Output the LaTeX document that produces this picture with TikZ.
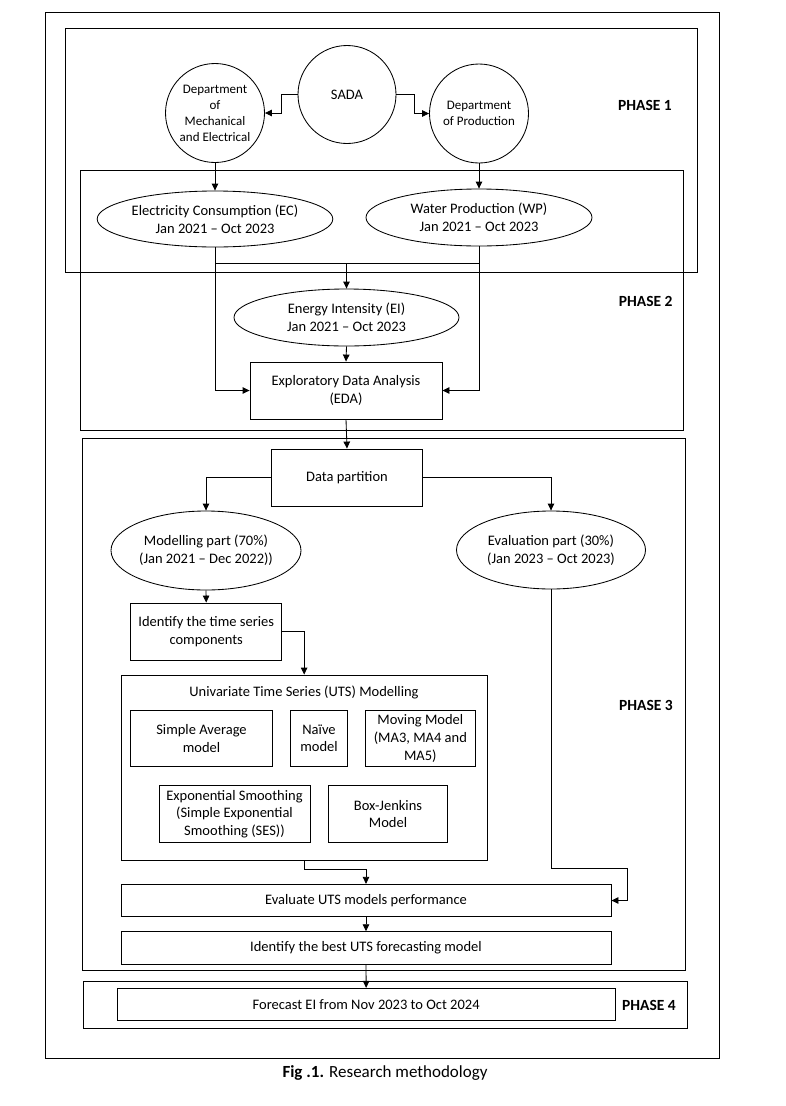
\documentclass[tikz,border=0pt]{standalone}
\usepackage{fontspec}
\setmainfont{Carlito}
\usetikzlibrary{shapes.geometric,arrows.meta,calc}
\begin{document}
\begin{tikzpicture}[x=1pt,y=-1pt,
  every node/.style={font=\fontsize{14.5}{17.7}\selectfont, align=center, inner sep=0pt},
  box/.style={draw, line width=0.85pt, rectangle},
  ell/.style={draw, line width=0.85pt, ellipse},
  circ/.style={draw, line width=0.85pt, circle},
  frame/.style={draw, line width=0.95pt},
  arr/.style={line width=0.85pt, -{Triangle[length=7pt,width=6.5pt]}},
  ln/.style={line width=0.85pt},
  phase/.style={font=\fontsize{15.5}{18}\selectfont\bfseries},
  small/.style={font=\fontsize{13}{16}\selectfont}
]
\useasboundingbox (0,0) rectangle (786,1106);
% frames
\draw[frame] (45,12) rectangle (719.5,1058.3);
\draw[frame] (65,28) rectangle (697,272);
\draw[frame] (80.5,170) rectangle (683,430);
\draw[frame] (82,438) rectangle (685,970);
\draw[frame] (83.5,981) rectangle (687,1028.3);
\node[phase] (p1) at (645,105.7) {PHASE 1};
\node[phase] (p2) at (645.7,301.7) {PHASE 2};
\node[phase] (p3) at (646,705.7) {PHASE 3};
\node[phase] (p4) at (649,1005.7) {PHASE 4};

% phase 1
\node[circ, minimum size=98pt] (sada) at (347,94.5) {SADA};
\node[circ, minimum size=99pt, small] (dme) at (215,113) {Department\\of\\Mechanical\\and Electrical};
\node[circ, minimum size=99pt, small] (dpr) at (479,113.5) {Department\\of Production};
\node[ell, minimum width=226pt, minimum height=56pt] (ec) at (215,219) {Electricity Consumption (EC)\\Jan 2021 – Oct 2023};
\node[ell, minimum width=226pt, minimum height=57pt] (wp) at (479,217.5) {Water Production (WP)\\Jan 2021 – Oct 2023};

\draw[arr] (sada.west) -- (281,94.5) |- (dme.east);
\draw[arr] (sada.east) -- (414,94.5) |- (dpr.west);
\draw[arr] (dme.south) -- (ec.north);
\draw[arr] (dpr.south) -- (wp.north);

% phase 2
\node[ell, minimum width=225pt, minimum height=57pt] (ei) at (346.5,317.5) {Energy Intensity (EI)\\Jan 2021 – Oct 2023};
\node[box, minimum width=192pt, minimum height=57pt] (eda) at (346,390.5) {Exploratory Data Analysis\\(EDA)};
\coordinate (j) at (346.5,263);
\draw[ln] (ec.south) |- (j);
\draw[ln] (wp.south) |- (j);
\draw[arr] (j) -- (ei.north);
\draw[arr] (ei.south) -- (eda.north);
\draw[arr] (ec.south) |- (eda.west);
\draw[arr] (wp.south) |- (eda.east);

% phase 3
\node[box, minimum width=150.6pt, minimum height=57pt] (dp) at (347,477.5) {Data partition};
\draw[arr] (eda.south) -- (dp.north);
\node[ell, minimum width=190pt, minimum height=79pt] (mod) at (206,550.5) {Modelling part (70\%)\\(Jan 2021 – Dec 2022))};
\node[ell, minimum width=189pt, minimum height=78pt] (evp) at (551,550) {Evaluation part (30\%)\\(Jan 2023 – Oct 2023)};
\draw[arr] (dp.west) -| (mod.north);
\draw[arr] (dp.east) -| (evp.north);
\node[box, minimum width=151pt, minimum height=57pt] (idt) at (206.2,631.5) {Identify the time series\\components};
\draw[arr] (mod.south) -- (idt.north);
\node[box, minimum width=366.3pt, minimum height=185pt] (uts) at (304.15,767.5) {};
\node (utst) at (304,692) {Univariate Time Series (UTS) Modelling};
\draw[arr] (idt.east) -| (uts.north);
\node[box, minimum width=141.6pt, minimum height=56.7pt] (sa) at (201.5,738.3) {Simple Average\\model};
\node[box, minimum width=56.6pt, minimum height=56.7pt] (nv) at (319,738.3) {Naïve\\model};
\node[box, minimum width=109.3pt, minimum height=56.7pt] (mm) at (420.35,738.3) {Moving Model\\(MA3, MA4 and\\MA5)};
\node[box, minimum width=151pt, minimum height=56.6pt] (es) at (234.5,814) {Exponential Smoothing\\(Simple Exponential\\Smoothing (SES))};
\node[box, minimum width=119.4pt, minimum height=56.6pt] (bj) at (388,814) {Box-Jenkins\\Model};
\node[box, minimum width=490pt, minimum height=32.4pt] (evm) at (366,900.5) {Evaluate UTS models performance};
\node[box, minimum width=490pt, minimum height=32.3pt] (best) at (366,947.85) {Identify the best UTS forecasting model};
\coordinate (c1) at (627.7,868.3);
\draw[arr] (uts.south) -- ++(0,9) -| (evm.north);
\draw[arr] (evp.south) |- (c1) |- (evm.east);
\draw[arr] (evm.south) -- (best.north);

% phase 4
\node[box, minimum width=497.7pt, minimum height=32.4pt] (fc) at (366.15,1004.5) {Forecast EI from Nov 2023 to Oct 2024};
\draw[arr] (best.south) -- (fc.north);

\node[font=\fontsize{17}{20}\selectfont] (cap) at (385,1073) {\textbf{Fig .1.} Research methodology};
\end{tikzpicture}
\end{document}
